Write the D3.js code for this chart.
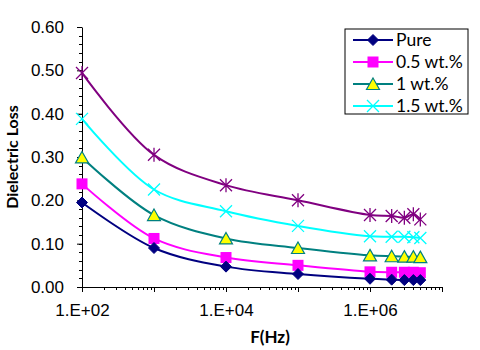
<!DOCTYPE html>
<html>
<head>
<meta charset="utf-8">
<script src="https://cdn.jsdelivr.net/npm/d3@7"></script>
<style>
  body { margin: 0; background: #fff; }
  svg { font-family: Lato, "Open Sans", sans-serif; }
  .tick text { font-size: 17px; fill: #000; }
</style>
</head>
<body>
<svg id="chart" width="480" height="350"></svg>
<script>
// frequencies (Hz)
const freq = [1e2, 1e3, 1e4, 1e5, 1e6, 2e6, 3e6, 4e6, 5e6];

// dielectric loss per sample
const pure = [0.195, 0.090, 0.047, 0.030, 0.019, 0.017, 0.016, 0.016, 0.016];
const wt05 = [0.238, 0.112, 0.068, 0.050, 0.035, 0.034, 0.034, 0.034, 0.033];
const wt1 = [0.299, 0.166, 0.112, 0.090, 0.073, 0.071, 0.070, 0.070, 0.069];
const wt15 = [0.388, 0.225, 0.175, 0.141, 0.117, 0.116, 0.116, 0.115, 0.113];
const wt2 = [0.494, 0.305, 0.235, 0.200, 0.166, 0.164, 0.160, 0.168, 0.156];

const seriesNames = ['Pure', '0.5 wt.%', '1 wt.%', '1.5 wt.%', '2 wt.%'];
const yTicks = [0, 0.1, 0.2, 0.3, 0.4, 0.5, 0.6];
const xLabelTicks = [1e2, 1e4, 1e6];

const series = [
  { name: seriesNames[0], values: pure, color: '#000080', marker: 'diamond' },
  { name: seriesNames[1], values: wt05, color: '#ff00ff', marker: 'square' },
  { name: seriesNames[2], values: wt1, color: '#008080', marker: 'triangle' },
  { name: seriesNames[3], values: wt15, color: '#00ffff', marker: 'cross' },
  { name: seriesNames[4], values: wt2, color: '#800080', marker: 'star' },
];

const margin = { left: 82, right: 38, top: 27, bottom: 63 };
const W = 480, H = 350;

const svg = d3.select('#chart');

const x = d3.scaleLog().domain([1e2, 1e7]).range([margin.left, W - margin.right]);
const y = d3.scaleLinear().domain([0, 0.6]).range([H - margin.bottom, margin.top]);

// y axis minor ticks
const yMinor = d3.range(0, 0.601, 0.02);
svg.append('g')
  .attr('transform', `translate(${margin.left},0)`)
  .selectAll('line')
  .data(yMinor)
  .join('line')
  .attr('x1', -3).attr('x2', 0)
  .attr('y1', d => Math.round(y(d)) + 0.5).attr('y2', d => Math.round(y(d)) + 0.5)
  .attr('stroke', '#000');

// y axis
const yAxis = svg.append('g')
  .attr('transform', `translate(${margin.left},0)`)
  .call(d3.axisLeft(y).tickValues(yTicks).tickSize(5).tickSizeOuter(0).tickPadding(13)
    .tickFormat(d3.format('.2f')));
yAxis.select('.domain').attr('stroke', '#000');

// x axis minor ticks (2..9 per decade)
const xMinor = [];
for (let e = 2; e < 7; e++) for (let m = 2; m <= 9; m++) xMinor.push(m * Math.pow(10, e));
svg.append('g')
  .attr('transform', `translate(0,${H - margin.bottom})`)
  .selectAll('line')
  .data(xMinor)
  .join('line')
  .attr('x1', d => Math.round(x(d)) + 0.5).attr('x2', d => Math.round(x(d)) + 0.5)
  .attr('y1', 0).attr('y2', 3)
  .attr('stroke', '#000');

// x axis
const xAxis = svg.append('g')
  .attr('transform', `translate(0,${H - margin.bottom})`)
  .call(d3.axisBottom(x).tickValues([1e2, 1e3, 1e4, 1e5, 1e6, 1e7]).tickSize(5).tickSizeOuter(0).tickPadding(12)
    .tickFormat(d => xLabelTicks.includes(d) ? '1.E+0' + Math.round(Math.log10(d)) : ''));
xAxis.select('.domain').attr('stroke', '#000');

// axis titles
svg.append('text')
  .attr('x', (margin.left + W - margin.right) / 2 + 8)
  .attr('y', 343)
  .attr('text-anchor', 'middle')
  .style('font-size', '17px')
  .style('font-weight', 'bold')
  .text('F(Hz)');

svg.append('text')
  .attr('transform', `translate(18,${(margin.top + H - margin.bottom) / 2}) rotate(-90)`)
  .attr('text-anchor', 'middle')
  .style('font-size', '16px')
  .style('font-weight', 'bold')
  .text('Dielectric Loss');

// markers
const drawMarker = (sel, type, color) => {
  if (type === 'diamond') {
    sel.append('path').attr('d', 'M0,-5.5L5.5,0L0,5.5L-5.5,0Z').attr('fill', color).attr('stroke', color);
  } else if (type === 'square') {
    sel.append('rect').attr('x', -5.5).attr('y', -5.5).attr('width', 11).attr('height', 11).attr('fill', color);
  } else if (type === 'triangle') {
    sel.append('path').attr('d', 'M0,-6L6.5,5.5L-6.5,5.5Z').attr('fill', '#ffff00').attr('stroke', color).attr('stroke-width', 1.2);
  } else if (type === 'cross') {
    sel.append('path').attr('d', 'M-6,-6L6,6M-6,6L6,-6').attr('stroke', color).attr('stroke-width', 1.3);
  } else {
    sel.append('path').attr('d', 'M-6,-6L6,6M-6,6L6,-6M0,-7L0,7').attr('stroke', color).attr('stroke-width', 1.3);
  }
};

const line = d3.line()
  .x(d => x(d[0]))
  .y(d => y(d[1]))
  .curve(d3.curveCatmullRom.alpha(0.5));

// draw series from top to bottom so lower ones sit on top
series.slice().reverse().forEach(s => {
  const pts = freq.map((f, i) => [f, s.values[i]]);
  svg.append('path')
    .datum(pts)
    .attr('d', line)
    .attr('fill', 'none')
    .attr('stroke', s.color)
    .attr('stroke-width', 2);
  svg.append('g')
    .selectAll('g')
    .data(pts)
    .join('g')
    .attr('transform', d => `translate(${x(d[0])},${y(d[1])})`)
    .each(function() { drawMarker(d3.select(this), s.marker, s.color); });
});

// legend (only the first four series appear in it)
const legend = svg.append('g').attr('transform', 'translate(345,29)');
legend.append('rect')
  .attr('width', 123).attr('height', 85)
  .attr('fill', '#fff').attr('stroke', '#000');
series.slice(0, 4).forEach((s, i) => {
  const row = legend.append('g').attr('transform', `translate(0,${11 + i * 22})`);
  row.append('line').attr('x1', 8).attr('x2', 48).attr('stroke', s.color).attr('stroke-width', 2);
  drawMarker(row.append('g').attr('transform', 'translate(28,0)'), s.marker, s.color);
  row.append('text').attr('x', 51).attr('y', 6).style('font-size', '17.5px').text(s.name);
});
</script>
</body>
</html>
